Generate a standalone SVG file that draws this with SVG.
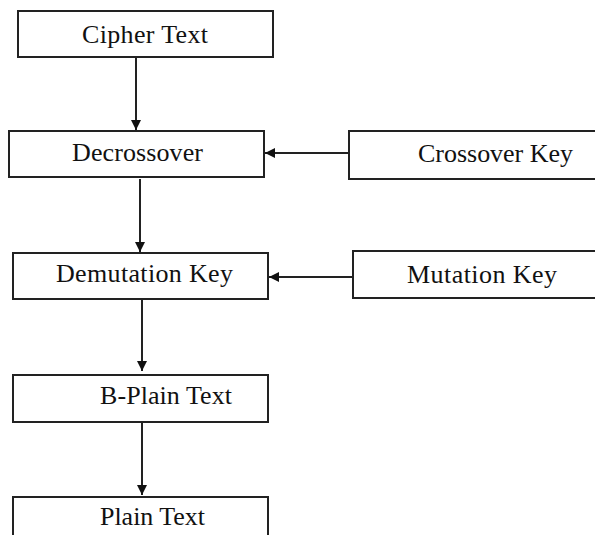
<svg xmlns="http://www.w3.org/2000/svg" width="595" height="535" viewBox="0 0 595 535">
<style>
.box{fill:#fff;stroke:#222;stroke-width:2}
.lbl{font-family:"Liberation Serif","Times New Roman",serif;font-size:26px;fill:#111}
.con{stroke:#222;stroke-width:2;fill:none}
</style>
<defs>
<marker id="ah" viewBox="0 0 10 10" refX="10" refY="5" markerWidth="10" markerHeight="10" markerUnits="userSpaceOnUse" orient="auto">
<path d="M0,0 L10,5 L0,10 z" fill="#111"/>
</marker>
</defs>
<rect width="595" height="535" fill="#fff"/>
<g id="cipher-text"><rect class="box" x="18" y="11" width="255" height="46"/><text class="lbl" x="82" y="43" textLength="126">Cipher Text</text></g>
<g id="decrossover"><rect class="box" x="9" y="131" width="255" height="46"/><text class="lbl" x="72" y="161" textLength="131">Decrossover</text></g>
<g id="crossover-key"><rect class="box" x="349" y="131" width="250" height="48"/><text class="lbl" x="418" y="162" textLength="155">Crossover Key</text></g>
<g id="demutation-key"><rect class="box" x="13" y="253" width="255" height="46"/><text class="lbl" x="56" y="282" textLength="177">Demutation Key</text></g>
<g id="mutation-key"><rect class="box" x="353" y="251" width="246" height="47"/><text class="lbl" x="407" y="283" textLength="150">Mutation Key</text></g>
<g id="b-plain-text"><rect class="box" x="13" y="375" width="255" height="47"/><text class="lbl" x="100" y="404" textLength="132">B-Plain Text</text></g>
<g id="plain-text"><rect class="box" x="13" y="497" width="255" height="50"/><text class="lbl" x="100" y="525" textLength="105">Plain Text</text></g>
<g id="connectors">
<line class="con" x1="136" y1="57" x2="136" y2="130" marker-end="url(#ah)"/>
<line class="con" x1="140" y1="179" x2="140" y2="252" marker-end="url(#ah)"/>
<line class="con" x1="142" y1="299" x2="142" y2="371" marker-end="url(#ah)"/>
<line class="con" x1="142" y1="422" x2="142" y2="495" marker-end="url(#ah)"/>
<line class="con" x1="349" y1="153" x2="265" y2="153" marker-end="url(#ah)"/>
<line class="con" x1="353" y1="277" x2="269" y2="277" marker-end="url(#ah)"/>
</g>
</svg>
